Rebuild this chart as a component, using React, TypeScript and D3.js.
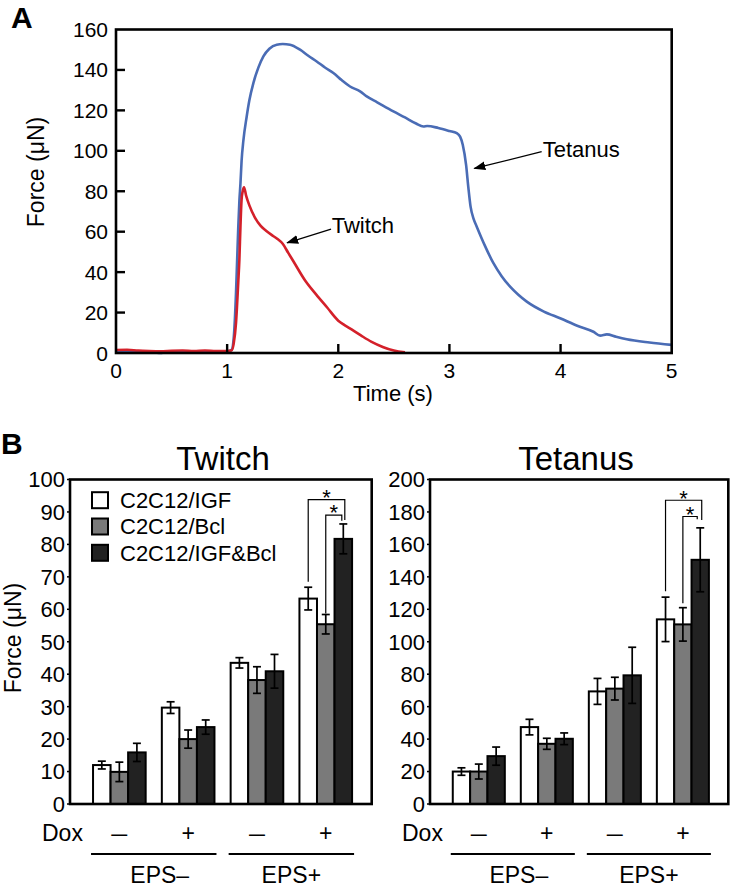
import React from 'react';
import * as d3 from 'd3';

// ---------- Panel A data ----------
const twitchTime = [0, 0.1, 0.2, 0.3, 0.4, 0.5, 0.6, 0.7, 0.8, 0.9, 1.0, 1.04, 1.06, 1.08, 1.1, 1.11, 1.12, 1.13, 1.14, 1.152, 1.17, 1.2, 1.25, 1.3, 1.35, 1.4, 1.45, 1.5, 1.55, 1.6, 1.7, 1.8, 1.9, 2.0, 2.05, 2.1, 2.2, 2.3, 2.4, 2.5, 2.6];
const twitchForce = [1.5, 1.6, 1.2, 1.0, 0.9, 1.1, 1.2, 1.0, 1.2, 1.0, 1.0, 1.2, 5, 15, 35, 46, 63, 76, 80, 82, 78, 73, 67, 63, 60.5, 58.4, 56.5, 54, 49.5, 45, 36, 29, 22.5, 16, 14, 12.3, 8.8, 5.5, 3, 1.2, 0.3];
const tetanusTime = [0, 0.2, 0.35, 0.4, 0.45, 0.6, 0.8, 1.0, 1.04, 1.06, 1.08, 1.09, 1.1, 1.11, 1.12, 1.13, 1.146, 1.176, 1.2, 1.236, 1.28, 1.326, 1.38, 1.446, 1.5, 1.566, 1.656, 1.73, 1.806, 1.88, 1.956, 2.03, 2.106, 2.196, 2.256, 2.35, 2.496, 2.6, 2.7, 2.766, 2.8, 2.9, 3.0, 3.066, 3.096, 3.12, 3.15, 3.17, 3.19, 3.22, 3.246, 3.32, 3.396, 3.47, 3.546, 3.62, 3.696, 3.85, 3.996, 4.15, 4.296, 4.356, 4.416, 4.5, 4.596, 4.8, 5.0];
const tetanusForce = [0.8, 0.8, 0.3, 0, 0.5, 0.8, 0.8, 0.8, 1.5, 8, 30, 46, 62, 75, 84, 95, 105, 117, 125, 133.5, 141, 146.7, 150.5, 152.5, 152.8, 152.5, 150, 147, 144.2, 141.2, 138.5, 135, 131.8, 129.4, 126.9, 124, 119.5, 116.5, 113.5, 112, 112.3, 111.3, 109.8, 108.7, 107, 103, 93, 82, 72.5, 66, 62.5, 53, 44.4, 38, 32.8, 28.8, 25.4, 20.5, 17.2, 13.5, 10.5, 8.6, 9.2, 8, 6.8, 5.2, 4];
const timeTicks = [0, 1, 2, 3, 4, 5];
const forceTicksA = [0, 20, 40, 60, 80, 100, 120, 140, 160];

// ---------- Panel B data ----------
const conditions = ['EPS-/Dox-', 'EPS-/Dox+', 'EPS+/Dox-', 'EPS+/Dox+'];
const doxLabels = ['–', '+', '–', '+'];
const epsLabels = ['EPS–', 'EPS+'];
const seriesNames = ['C2C12/IGF', 'C2C12/Bcl', 'C2C12/IGF&Bcl'];
const seriesColors = ['#ffffff', '#7a7a7a', '#222222'];

const twitchIGF = [12.0, 29.7, 43.5, 63.3];
const twitchBcl = [9.9, 20.0, 38.2, 55.4];
const twitchBoth = [15.9, 23.7, 40.9, 81.7];
const twitchIGFErr = [1.2, 1.8, 1.6, 3.5];
const twitchBclErr = [3.0, 2.8, 4.1, 3.0];
const twitchBothErr = [2.8, 2.2, 5.2, 4.6];

const tetanusIGF = [20.0, 47.4, 69.4, 113.8];
const tetanusBcl = [20.0, 37.1, 71.1, 110.7];
const tetanusBoth = [29.5, 40.2, 79.3, 150.5];
const tetanusIGFErr = [2.3, 4.8, 8.0, 13.7];
const tetanusBclErr = [4.6, 3.4, 7.0, 10.3];
const tetanusBothErr = [5.6, 3.6, 17.3, 19.7];

const twitchTicks = [0, 10, 20, 30, 40, 50, 60, 70, 80, 90, 100];
const tetanusTicks = [0, 20, 40, 60, 80, 100, 120, 140, 160, 180, 200];

// significance brackets: group index, from series, to series, level, left start, right end
const twitchBrackets = [
  { group: 3, from: 0, to: 2, level: 93.8, start: 68.5, end: 87.5, dx: 1.5 },
  { group: 3, from: 1, to: 2, level: 89.0, start: 58.7, end: 87.3, dx: -1.5 },
];
const tetanusBrackets = [
  { group: 3, from: 0, to: 2, level: 187.2, start: 131.2, end: 175.0, dx: 1.5 },
  { group: 3, from: 1, to: 2, level: 177.2, start: 123.8, end: 175.5, dx: -3 },
];

const FONT = '"Liberation Sans", Arial, Helvetica, sans-serif';

function PanelA() {
  const x = d3.scaleLinear().domain([0, 5]).range([116, 671.7]);
  const y = d3.scaleLinear().domain([0, 160]).range([353, 29.5]);
  const mk = (ts: number[], fs: number[]) =>
    d3
      .line<[number, number]>()
      .x((d) => x(d[0]))
      .y((d) => y(d[1]))
      .curve(d3.curveMonotoneX)(ts.map((t, i) => [t, fs[i]] as [number, number])) || '';
  const [x0, x1] = x.range();
  const [yb, yt] = y.range();
  return (
    <g>
      <text x={11} y={28} fontSize={30} fontWeight="bold">A</text>
      <path d={mk(tetanusTime, tetanusForce)} fill="none" stroke="#4a6cb5" strokeWidth={2.6} />
      <path d={mk(twitchTime, twitchForce)} fill="none" stroke="#d4202a" strokeWidth={2.6} />
      <rect x={x0} y={yt} width={x1 - x0} height={yb - yt} fill="none" stroke="#000" strokeWidth={2.6} />
      {timeTicks.map((t) => (
        <g key={'xt' + t}>
          {t > 0 && t < 5 && <line x1={x(t)} x2={x(t)} y1={yb} y2={yb - 9} stroke="#000" strokeWidth={2.4} />}
          <text x={x(t)} y={378} fontSize={21} textAnchor="middle">{t}</text>
        </g>
      ))}
      {forceTicksA.map((f) => (
        <g key={'yt' + f}>
          {f > 0 && f < 160 && <line x1={x0} x2={x0 + 9} y1={y(f)} y2={y(f)} stroke="#000" strokeWidth={2.4} />}
          <text x={108} y={y(f)} dy="0.36em" fontSize={21} textAnchor="end">{f}</text>
        </g>
      ))}
      <text x={393} y={401} fontSize={22} textAnchor="middle">Time (s)</text>
      <text transform={`translate(44,172) rotate(-90)`} fontSize={23} textAnchor="middle">Force (μN)</text>
      {/* annotations */}
      <line x1={x(1.935)} y1={y(61.3)} x2={x(1.54)} y2={y(54.5)} stroke="#000" strokeWidth={1.2} markerEnd="url(#arrowhead)" />
      <text x={x(1.941)} y={y(59.3)} fontSize={22}>Twitch</text>
      <line x1={x(3.83)} y1={y(99.6)} x2={x(3.224)} y2={y(91.3)} stroke="#000" strokeWidth={1.2} markerEnd="url(#arrowhead)" />
      <text x={x(3.839)} y={y(97.1)} fontSize={22}>Tetanus</text>
    </g>
  );
}

type Bracket = { group: number; from: number; to: number; level: number; start: number; end: number; dx: number };

function BarPanel(props: {
  x0: number; x1: number; yTop: number; yBottom: number; yMax: number; ticks: number[];
  means: number[][]; errs: number[][]; brackets: Bracket[]; title: string; titleX: number; legend: boolean;
}) {
  const { x0, x1, yTop, yBottom, yMax, ticks, means, errs, brackets, title, titleX, legend } = props;
  const x = d3.scaleBand().domain(conditions).range([x0, x1]).paddingInner(0.235).paddingOuter(0.31).align(0.54);
  const xs = d3.scaleBand().domain(seriesNames).range([0, x.bandwidth()]);
  const y = d3.scaleLinear().domain([0, yMax]).range([yBottom, yTop]);
  const bw = xs.bandwidth();
  const cx = (g: number, s: number) => (x(conditions[g]) as number) + (xs(seriesNames[s]) as number) + bw / 2;
  const starFs = 22;
  return (
    <g>
      <text x={titleX} y={yTop - 9.5} fontSize={33} textAnchor="middle">{title}</text>
      {conditions.map((c, g) => (
        <g key={c}>
          {seriesNames.map((s, si) => (
            <rect key={s} x={(x(c) as number) + (xs(s) as number)} y={y(means[si][g])} width={bw}
              height={yBottom - y(means[si][g])} fill={seriesColors[si]} stroke="#000" strokeWidth={2} />
          ))}
          {seriesNames.map((s, si) => {
            const m = means[si][g];
            const e = errs[si][g];
            const c0 = cx(g, si);
            return (
              <g key={'e' + s} stroke="#000" strokeWidth={1.7}>
                <line x1={c0} x2={c0} y1={y(m - e)} y2={y(m + e)} />
                <line x1={c0 - 4} x2={c0 + 4} y1={y(m - e)} y2={y(m - e)} />
                <line x1={c0 - 4} x2={c0 + 4} y1={y(m + e)} y2={y(m + e)} />
              </g>
            );
          })}
        </g>
      ))}
      <rect x={x0} y={yTop} width={x1 - x0} height={yBottom - yTop} fill="none" stroke="#000" strokeWidth={2.6} />
      {ticks.map((t) => (
        <g key={'t' + t}>
          <line x1={x0 - 3} x2={x0} y1={y(t)} y2={y(t)} stroke="#000" strokeWidth={1.5} />
          <text x={x0 - 5} y={y(t)} dy="0.36em" fontSize={22} textAnchor="end">{t}</text>
        </g>
      ))}
      {brackets.map((b, i) => {
        const xl = cx(b.group, b.from);
        const xr = cx(b.group, b.to) + b.dx;
        const top = y(b.level);
        return (
          <g key={'b' + i}>
            <path d={`M${xl},${y(b.start)} V${top} H${xr} V${y(b.end)}`} fill="none" stroke="#000" strokeWidth={1.2} />
            <text x={(xl + xr) / 2} y={top - 7.5 + 0.58 * starFs} fontSize={starFs} textAnchor="middle">*</text>
          </g>
        );
      })}
      {legend && seriesNames.map((s, si) => {
        const cy = yTop + 20.7 + si * 26.3;
        return (
          <g key={'l' + s}>
            <rect x={x0 + 22} y={cy - 8} width={16} height={16} fill={seriesColors[si]} stroke="#000" strokeWidth={2} />
            <text x={x0 + 50} y={cy} dy="0.36em" fontSize={22}>{s}</text>
          </g>
        );
      })}
      {/* Dox row */}
      <text x={x0 - 28} y={yBottom + 37} fontSize={23}>Dox</text>
      {conditions.map((c, g) => {
        const mid = (x(c) as number) + x.bandwidth() / 2;
        return doxLabels[g] === '–' ? (
          <text key={'d' + c} x={mid - 8} y={yBottom + 37} fontSize={23} textLength={16} lengthAdjust="spacingAndGlyphs">{doxLabels[g]}</text>
        ) : (
          <text key={'d' + c} x={mid} y={yBottom + 37} fontSize={23} textAnchor="middle">{doxLabels[g]}</text>
        );
      })}
      {epsLabels.map((lab, k) => {
        const a = (x(conditions[2 * k]) as number) - 2;
        const bEnd = (x(conditions[2 * k + 1]) as number) + x.bandwidth() + 2;
        return (
          <g key={'eps' + k}>
            <line x1={a} x2={bEnd} y1={yBottom + 50} y2={yBottom + 50} stroke="#000" strokeWidth={2.2} />
            <text x={(a + bEnd) / 2 + (k === 0 ? 6 : 0)} y={yBottom + 79} fontSize={23} textAnchor="middle">{lab}</text>
          </g>
        );
      })}
    </g>
  );
}

export default function App() {
  return (
    <svg width={731} height={888} style={{ position: 'absolute', left: 0, top: 0, background: '#fff' }}
      fontFamily={FONT} fill="#000">
      <defs>
        <marker id="arrowhead" markerUnits="userSpaceOnUse" markerWidth={12} markerHeight={9} refX={11} refY={4.5} orient="auto">
          <path d="M0,0 L12,4.5 L0,9 Z" fill="#000" />
        </marker>
      </defs>
      <PanelA />
      <text x={1} y={454} fontSize={30} fontWeight="bold">B</text>
      <text transform={`translate(21,638) rotate(-90)`} fontSize={23} textAnchor="middle">Force (μN)</text>
      <BarPanel x0={70} x1={371.7} yTop={479.5} yBottom={804} yMax={100} ticks={twitchTicks}
        means={[twitchIGF, twitchBcl, twitchBoth]} errs={[twitchIGFErr, twitchBclErr, twitchBothErr]}
        brackets={twitchBrackets} title="Twitch" titleX={223} legend={true} />
      <BarPanel x0={430} x1={728.3} yTop={479.5} yBottom={804} yMax={200} ticks={tetanusTicks}
        means={[tetanusIGF, tetanusBcl, tetanusBoth]} errs={[tetanusIGFErr, tetanusBclErr, tetanusBothErr]}
        brackets={tetanusBrackets} title="Tetanus" titleX={576} legend={false} />
    </svg>
  );
}
